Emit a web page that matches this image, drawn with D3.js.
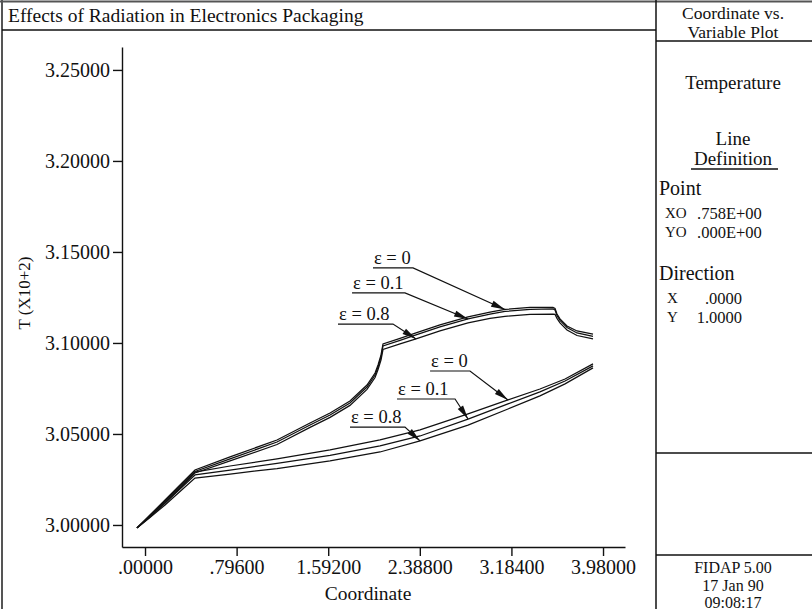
<!DOCTYPE html>
<html>
<head>
<meta charset="utf-8">
<script src="https://cdn.jsdelivr.net/npm/d3@7"></script>
<style>
  body { margin: 0; background: #fff; }
  text { font-family: "Liberation Serif", "DejaVu Serif", serif; fill: #111; }
</style>
</head>
<body>
<script>
// Temperature profile along the line x = 0.758, for three surface emissivities.
// Each emissivity has an upper branch (through the chip) and a lower branch.
const upperX = [-0.070, 0.043, 0.174, 0.304, 0.434, 0.739, 1.147, 1.434, 1.608, 1.781, 1.929, 1.999, 2.025, 2.051, 2.068,
                2.216, 2.355, 2.563, 2.807, 2.998, 3.128, 3.346, 3.545, 3.563, 3.580, 3.606, 3.667, 3.754, 3.893];
const upperEps0  = [2.9984, 3.0055, 3.0137, 3.0220, 3.0302, 3.0374, 3.0467, 3.0560, 3.0615, 3.0681, 3.0769, 3.0835, 3.0879, 3.0934, 3.0995,
                    3.1025, 3.1055, 3.1099, 3.1143, 3.1170, 3.1184, 3.1195, 3.1195, 3.1190, 3.1159, 3.1132, 3.1093, 3.1066, 3.1049];
const upperEps01 = [2.9984, 3.0049, 3.0129, 3.0212, 3.0294, 3.0363, 3.0456, 3.0549, 3.0604, 3.0670, 3.0758, 3.0824, 3.0868, 3.0923, 3.0984,
                    3.1014, 3.1044, 3.1088, 3.1132, 3.1159, 3.1173, 3.1184, 3.1187, 3.1181, 3.1151, 3.1124, 3.1085, 3.1055, 3.1036];
const upperEps08 = [2.9984, 3.0044, 3.0121, 3.0203, 3.0286, 3.0352, 3.0442, 3.0536, 3.0591, 3.0657, 3.0745, 3.0810, 3.0854, 3.0907, 3.0964,
                    3.0995, 3.1022, 3.1066, 3.1110, 3.1135, 3.1146, 3.1157, 3.1159, 3.1157, 3.1135, 3.1110, 3.1071, 3.1041, 3.1022];

const lowerX = [-0.070, 0.043, 0.174, 0.304, 0.434, 0.739, 1.147, 1.608, 2.042, 2.390, 2.807, 3.154, 3.432, 3.650, 3.893];
const lowerEps0  = [2.9984, 3.0052, 3.0132, 3.0212, 3.0291, 3.0324, 3.0363, 3.0412, 3.0467, 3.0522, 3.0610, 3.0687, 3.0747, 3.0802, 3.0885];
const lowerEps01 = [2.9984, 3.0047, 3.0121, 3.0198, 3.0275, 3.0302, 3.0338, 3.0382, 3.0434, 3.0489, 3.0582, 3.0665, 3.0731, 3.0791, 3.0874];
const lowerEps08 = [2.9984, 3.0041, 3.0110, 3.0184, 3.0258, 3.0280, 3.0310, 3.0352, 3.0401, 3.0462, 3.0549, 3.0637, 3.0709, 3.0775, 3.0863];

const xTicks = [0, 0.796, 1.592, 2.388, 3.184, 3.98];
const xTickLabels = [".00000", ".79600", "1.59200", "2.38800", "3.18400", "3.98000"];
const yTicks = [3.00, 3.05, 3.10, 3.15, 3.20, 3.25];
const yTickLabels = ["3.00000", "3.05000", "3.10000", "3.15000", "3.20000", "3.25000"];

// Callouts: label text, underline start/end x and height (data units), arrow target on a series.
const calloutText   = ["ε = 0", "ε = 0.1", "ε = 0.8", "ε = 0", "ε = 0.1", "ε = 0.8"];
const calloutX0     = [1.981, 1.799, 1.677, 2.477, 2.190, 1.781];
const calloutX1     = [2.329, 2.259, 2.155, 2.824, 2.694, 2.259];
const calloutY      = [3.1412, 3.1275, 3.1104, 3.0846, 3.0692, 3.0538];
const calloutTipX   = [3.128, 2.807, 2.355, 3.154, 2.807, 2.390];

const W = 812, H = 609;
const svg = d3.select("body").append("svg").attr("width", W).attr("height", H);

const x = d3.scaleLinear().domain([-0.2, 4.171]).range([122, 625]);
const y = d3.scaleLinear().domain([2.9879, 3.2626]).range([547, 47]);

// ---- frame ----
const frame = svg.append("g").attr("fill", "none");
frame.append("line").attr("x1", 0).attr("x2", W).attr("y1", 1.5).attr("y2", 1.5).attr("stroke", "#555").attr("stroke-width", 2);
frame.append("line").attr("x1", 2).attr("x2", 2).attr("y1", 0).attr("y2", H).attr("stroke", "#555").attr("stroke-width", 2);
frame.append("line").attr("x1", 656).attr("x2", 656).attr("y1", 0).attr("y2", H).attr("stroke", "#111").attr("stroke-width", 1.5);
frame.append("line").attr("x1", 2).attr("x2", 656).attr("y1", 30).attr("y2", 30).attr("stroke", "#111").attr("stroke-width", 1.5);
[41, 453, 555].forEach(yy =>
  frame.append("line").attr("x1", 656).attr("x2", W).attr("y1", yy).attr("y2", yy).attr("stroke", "#111").attr("stroke-width", 1.5));

svg.append("text").attr("x", 8).attr("y", 22).style("font-size", "19.5px")
  .text("Effects of Radiation in Electronics Packaging");

// ---- side panel ----
const cx = 733;
const panel = svg.append("g");
const centred = [
  ["Coordinate vs.", 13, 17.5], ["Variable Plot", 32, 17.5], ["Temperature", 82, 19],
  ["Line", 138, 19], ["Definition", 158, 19],
  ["FIDAP 5.00", 567, 16], ["17 Jan 90", 585, 16], ["09:08:17", 602, 16]
];
centred.forEach(([t, yy, fs]) => panel.append("text").attr("x", cx).attr("y", yy)
  .attr("text-anchor", "middle").attr("dominant-baseline", "central").style("font-size", fs + "px").text(t));
panel.append("line").attr("x1", 691).attr("x2", 778).attr("y1", 169).attr("y2", 169).attr("stroke", "#111").attr("stroke-width", 1.3);
const leftItems = [["Point", 659, 188, 20], ["Direction", 659, 273, 20]];
leftItems.forEach(([t, xx, yy, fs]) => panel.append("text").attr("x", xx).attr("y", yy)
  .attr("dominant-baseline", "central").style("font-size", fs + "px").text(t));
const pairs = [["XO", ".758E+00", 213], ["YO", ".000E+00", 232]];
pairs.forEach(([a, b, yy]) => {
  panel.append("text").attr("x", 665).attr("y", yy).attr("dominant-baseline", "central").style("font-size", "15px").text(a);
  panel.append("text").attr("x", 697).attr("y", yy).attr("dominant-baseline", "central").style("font-size", "16.5px").text(b);
});
const dirs = [["X", ".0000", 298], ["Y", "1.0000", 317]];
dirs.forEach(([a, b, yy]) => {
  panel.append("text").attr("x", 667).attr("y", yy).attr("dominant-baseline", "central").style("font-size", "15px").text(a);
  panel.append("text").attr("x", 742).attr("y", yy).attr("text-anchor", "end").attr("dominant-baseline", "central").style("font-size", "16.5px").text(b);
});

// ---- axes ----
const gx = svg.append("g").attr("transform", "translate(0,547)")
  .call(d3.axisBottom(x).tickValues(xTicks).tickFormat((d, i) => xTickLabels[i]).tickSize(9).tickSizeOuter(0).tickPadding(4));
const gy = svg.append("g").attr("transform", "translate(122,0)")
  .call(d3.axisLeft(y).tickValues(yTicks).tickFormat((d, i) => yTickLabels[i]).tickSize(9).tickSizeOuter(0).tickPadding(3));
[gx, gy].forEach(g => {
  g.selectAll("path, line").attr("stroke", "#111").attr("stroke-width", 1.4);
  g.selectAll("text").style("font-family", "Liberation Serif, serif").style("font-size", "20px").attr("fill", "#111");
});

svg.append("text").attr("x", 368).attr("y", 593).attr("text-anchor", "middle").attr("dominant-baseline", "central")
  .style("font-size", "19.5px").text("Coordinate");
svg.append("text").attr("transform", "translate(24,293) rotate(-90)").attr("text-anchor", "middle")
  .attr("dominant-baseline", "central").style("font-size", "17px").text("T (X10+2)");

// ---- curves ----
const series = [
  { xs: upperX, ys: upperEps0 }, { xs: upperX, ys: upperEps01 }, { xs: upperX, ys: upperEps08 },
  { xs: lowerX, ys: lowerEps0 }, { xs: lowerX, ys: lowerEps01 }, { xs: lowerX, ys: lowerEps08 }
];
const line = d3.line().x(d => x(d[0])).y(d => y(d[1]));
series.forEach(s => {
  svg.append("path").datum(s.xs.map((v, i) => [v, s.ys[i]]))
    .attr("d", line).attr("fill", "none").attr("stroke", "#111").attr("stroke-width", 1.25)
    .attr("stroke-linejoin", "miter");
});

// value of a series at a given coordinate (linear between samples)
function valueAt(s, xv) {
  const i = Math.max(1, d3.bisectLeft(s.xs, xv));
  const t = (xv - s.xs[i - 1]) / (s.xs[i] - s.xs[i - 1]);
  return s.ys[i - 1] + t * (s.ys[i] - s.ys[i - 1]);
}

// ---- callouts ----
calloutText.forEach((t, k) => {
  const s = series[k];
  const x0 = x(calloutX0[k]), x1 = x(calloutX1[k]), yy = y(calloutY[k]);
  const tx = x(calloutTipX[k]), ty = y(valueAt(s, calloutTipX[k]));
  svg.append("text").attr("x", x0 + 1).attr("y", yy - 4).style("font-size", "18.5px").text(t);
  svg.append("polyline").attr("points", `${x0},${yy} ${x1},${yy} ${tx},${ty}`)
    .attr("fill", "none").attr("stroke", "#111").attr("stroke-width", 1.2);
  const dx = tx - x1, dy = ty - yy, L = Math.hypot(dx, dy), ux = dx / L, uy = dy / L;
  const hl = 14, hw = 3.2;
  const bx = tx - ux * hl, by = ty - uy * hl;
  svg.append("polygon")
    .attr("points", `${tx},${ty} ${bx - uy * hw},${by + ux * hw} ${bx + uy * hw},${by - ux * hw}`)
    .attr("fill", "#111");
});
</script>
</body>
</html>
